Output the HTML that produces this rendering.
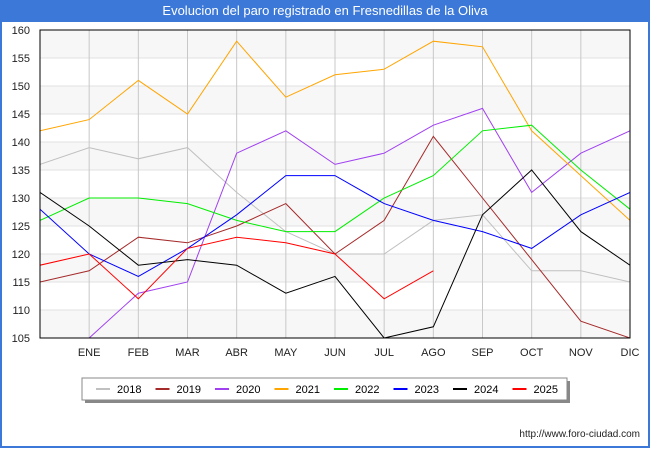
<!DOCTYPE html>
<html><head><meta charset="utf-8"><style>
body{margin:0;width:650px;height:450px;background:#fff;font-family:"Liberation Sans",sans-serif;position:relative;overflow:hidden}
#frame{position:absolute;left:0;top:0;width:646px;height:446px;border:2px solid #3b78d8;border-top:none}
#title{position:absolute;left:0;top:0;width:650px;height:22px;background:#3b78d8;color:#fff;font-size:13px;text-align:center;line-height:22px}
svg{position:absolute;left:0;top:0}
</style></head><body>
<div id="frame"></div>
<div id="title">Evolucion del paro registrado en Fresnedillas de la Oliva</div>
<svg id="chart" width="650" height="450"></svg>
<script>
const months=["","ENE","FEB","MAR","ABR","MAY","JUN","JUL","AGO","SEP","OCT","NOV","DIC"];
const yTicks=[105,110,115,120,125,130,135,140,145,150,155,160];
const seriesNames=["2018","2019","2020","2021","2022","2023","2024","2025"];
const seriesColors=["#c0c0c0","#a52a2a","#a040f0","#ffa500","#00ee00","#0000ff","#000000","#ff0000"];
const s2018=[136,139,137,139,131,124,120,120,126,127,117,117,115];
const s2019=[115,117,123,122,125,129,120,126,141,130,119,108,105];
const s2020=[null,105,113,115,138,142,136,138,143,146,131,138,142];
const s2021=[142,144,151,145,158,148,152,153,158,157,142,134,126];
const s2022=[126,130,130,129,126,124,124,130,134,142,143,135,128];
const s2023=[128,120,116,121,127,134,134,129,126,124,121,127,131];
const s2024=[131,125,118,119,118,113,116,105,107,127,135,124,118];
const s2025=[118,120,112,121,123,122,120,112,117];
const allSeries=[s2018,s2019,s2020,s2021,s2022,s2023,s2024,s2025];
const L=40,R=630,T=30,B=338,yMin=105,yMax=160;
const X=i=>L+i*(R-L)/12;
const Y=v=>B-(v-yMin)*(B-T)/(yMax-yMin);
const NS="http://www.w3.org/2000/svg";
const svg=document.getElementById('chart');
function mk(t,a,p){const e=document.createElementNS(NS,t);for(const k in a)e.setAttribute(k,a[k]);(p||svg).appendChild(e);return e;}
for(let i=0;i<yTicks.length-1;i++){
 if(i%2==0){const b=mk('rect',{x:L,y:Y(yTicks[i+1]),width:R-L,height:Y(yTicks[i])-Y(yTicks[i+1]),fill:'#f7f7f7'});
 
 }
}
yTicks.forEach(v=>{
 const g=mk('line',{x1:L,x2:R,y1:Y(v),y2:Y(v),stroke:'#e0e0e0','stroke-width':1});
 
 
 const t=mk('text',{x:L-10,y:Y(v)+4,'text-anchor':'end','font-size':11,fill:'#222'});
 t.textContent=v;
 
 
});
months.forEach((m,i)=>{
 if(i==0)return;
 const g=mk('line',{x1:X(i),x2:X(i),y1:T,y2:B,stroke:'#c8c8c8','stroke-width':1});
 
 
 const t=mk('text',{x:X(i),y:356,'text-anchor':'middle','font-size':11,fill:'#222'});
 t.textContent=m;
 
 
});
const clip=mk('clipPath',{id:'pc'});mk('rect',{x:L,y:T,width:R-L,height:B-T},clip);
allSeries.forEach((s,k)=>{
 let d='',pen=false;
 s.forEach((v,i)=>{if(v==null){pen=false;return;}d+=(pen?'L':'M')+X(i)+','+Y(v);pen=true;});
 const p=mk('path',{d:d,fill:'none',stroke:seriesColors[k],'stroke-width':1,'clip-path':'url(#pc)'});
 
 
});
const ax=mk('rect',{x:L,y:T,width:R-L,height:B-T,fill:'none',stroke:'#000','stroke-width':1});


mk('rect',{x:85,y:381,width:485,height:22,fill:'#888'});
const lg=mk('rect',{x:82,y:378,width:485,height:22,fill:'#fff',stroke:'#888'});


seriesNames.forEach((n,k)=>{
 const x0=96+k*59.5;
 const l=mk('line',{x1:x0,x2:x0+14,y1:389,y2:389,stroke:seriesColors[k],'stroke-width':2});
 
 
 const t=mk('text',{x:x0+21,y:393,'font-size':11,fill:'#000'});
 t.textContent=n;
 
 
});
const u=mk('text',{x:640,y:437,'text-anchor':'end','font-size':10,fill:'#222'});
u.textContent='http://www.foro-ciudad.com';


</script>
</body></html>
